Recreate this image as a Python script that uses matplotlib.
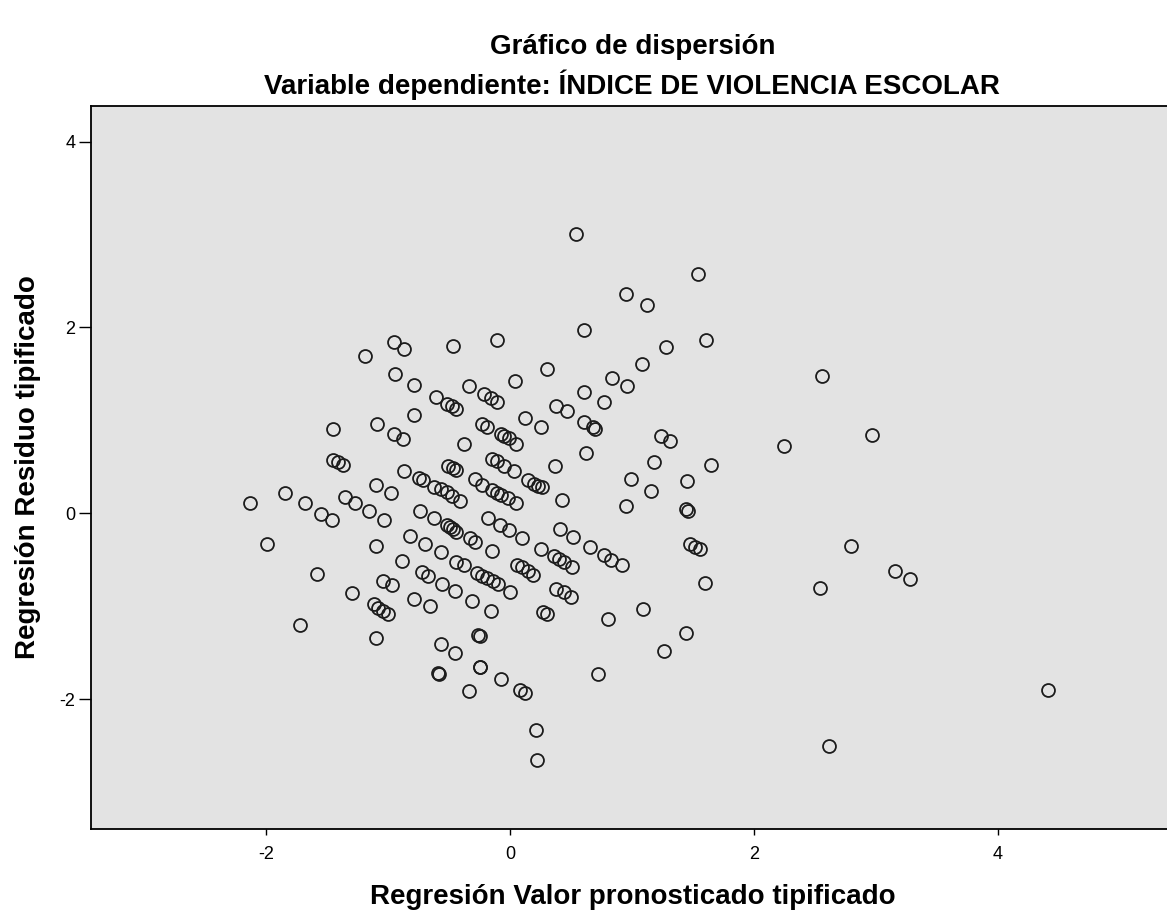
import matplotlib
matplotlib.use("Agg")
import matplotlib.pyplot as plt

# Regresión Valor pronosticado tipificado (x) / Regresión Residuo tipificado (y)
x_pred = [
    -0.95, -0.87, -1.19, -0.47, -0.11, -0.94, -0.79, -0.34, -0.61, -0.52,
    -0.48, -0.44, -0.21, -0.16, -0.11, -1.45, -1.09, -0.79, -0.95, -0.88,
    -0.38, -0.23, -0.19, -0.07, -0.05, -0.01, 0.05, -1.45, -1.41, -1.37,
    -0.87, -0.75, -0.71, -0.51, -0.47, -0.44, -0.15, -0.11, -0.05, 0.03,
    -0.29, -0.23, -1.10, -0.98, -1.35, -1.27, -1.85, -2.13, -1.68, -0.62,
    -0.57, -0.52, -0.48, -0.41, -0.15, -0.11, -0.07, -0.02, 0.05, 0.04,
    -1.55, -1.46, -1.16, -1.03, -0.74, -0.62, -0.52, -0.49, -0.47, -0.44,
    -0.18, -0.08, -0.01, -1.99, -1.10, -0.82, -0.70, -0.57, -0.33, -0.29,
    -0.15, -0.89, -0.44, -0.38, -1.58, -0.72, -0.67, -0.56, -0.45, -0.27,
    -0.23, -0.19, -0.14, -0.10, 0.00, -1.04, -0.97, -1.30, -0.79, -0.66,
    -0.31, -0.16, -1.12, -1.08, -1.04, -1.00, -1.72, -1.10, -0.26, -0.25,
    -0.57, -0.45, -0.25, -0.25, -0.59, -0.58, -0.07, -0.34, 0.54, 1.54,
    0.95, 1.12, 0.61, 1.61, 1.28, 1.08, 0.30, 0.84, 0.96, 0.61,
    0.77, 0.38, 0.47, 0.12, 0.25, 0.61, 0.68, 0.70, 1.24, 1.31,
    0.62, 1.18, 1.65, 0.37, 0.15, 0.20, 0.23, 0.26, 0.99, 1.45,
    1.16, 0.43, 0.95, 1.44, 1.46, 0.10, 0.41, 0.52, 0.25, 0.36,
    0.40, 0.44, 0.51, 0.66, 0.77, 0.83, 0.92, 1.48, 1.52, 1.56,
    0.06, 0.10, 0.15, 0.19, 0.38, 0.44, 0.50, 0.27, 0.30, 1.60,
    0.80, 1.09, 1.44, 1.26, 0.72, 0.08, 0.12, 0.21, 0.22, 2.56,
    2.25, 2.97, 2.80, 2.54, 3.16, 3.28, 4.41, 2.62,
]
y_resid = [
    1.84, 1.77, 1.69, 1.80, 1.86, 1.50, 1.38, 1.37, 1.25, 1.18,
    1.16, 1.12, 1.28, 1.24, 1.20, 0.91, 0.96, 1.06, 0.85, 0.80,
    0.75, 0.96, 0.93, 0.85, 0.83, 0.81, 0.75, 0.57, 0.55, 0.52,
    0.46, 0.38, 0.36, 0.51, 0.49, 0.47, 0.58, 0.56, 0.51, 0.45,
    0.37, 0.31, 0.31, 0.22, 0.18, 0.11, 0.22, 0.11, 0.11, 0.28,
    0.26, 0.23, 0.19, 0.13, 0.25, 0.22, 0.20, 0.17, 0.11, 1.42,
    -0.01, -0.07, 0.02, -0.07, 0.03, -0.05, -0.13, -0.15, -0.17, -0.20,
    -0.05, -0.13, -0.18, -0.33, -0.35, -0.24, -0.33, -0.42, -0.27, -0.31,
    -0.41, -0.51, -0.52, -0.56, -0.65, -0.63, -0.68, -0.76, -0.84, -0.64,
    -0.67, -0.70, -0.73, -0.76, -0.85, -0.73, -0.77, -0.86, -0.92, -1.00,
    -0.94, -1.05, -0.98, -1.02, -1.05, -1.08, -1.20, -1.34, -1.31, -1.32,
    -1.41, -1.50, -1.65, -1.65, -1.72, -1.73, -1.78, -1.91, 3.01, 2.58,
    2.36, 2.24, 1.97, 1.87, 1.79, 1.61, 1.55, 1.46, 1.37, 1.31,
    1.20, 1.16, 1.10, 1.03, 0.93, 0.98, 0.93, 0.91, 0.83, 0.78,
    0.65, 0.55, 0.52, 0.51, 0.36, 0.32, 0.29, 0.28, 0.37, 0.35,
    0.24, 0.14, 0.08, 0.05, 0.02, -0.27, -0.17, -0.25, -0.38, -0.46,
    -0.49, -0.52, -0.58, -0.36, -0.45, -0.50, -0.56, -0.33, -0.36, -0.38,
    -0.56, -0.58, -0.62, -0.66, -0.81, -0.85, -0.90, -1.06, -1.08, -0.75,
    -1.14, -1.03, -1.29, -1.48, -1.73, -1.90, -1.93, -2.33, -2.66, 1.48,
    0.72, 0.84, -0.35, -0.80, -0.62, -0.71, -1.90, -2.51,
]
x_ticks = [-2, 0, 2, 4]
y_ticks = [-2, 0, 2, 4]
title_main = "Gráfico de dispersión"
title_sub = "Variable dependiente: ÍNDICE DE VIOLENCIA ESCOLAR"
x_label = "Regresión Valor pronosticado tipificado"
y_label = "Regresión Residuo tipificado"

plt.rcParams['font.family'] = ['Liberation Sans', 'DejaVu Sans']
plt.rcParams['axes.unicode_minus'] = False

W, H = 1167, 918
fig = plt.figure(figsize=(W / 100, H / 100), dpi=100)
left_px, right_px, top_px, bottom_px = 90.7, 1174, 106, 829
ax = fig.add_axes([left_px / W, 1 - bottom_px / H,
                   (right_px - left_px) / W, (bottom_px - top_px) / H])
ax.set_facecolor('#e3e3e3')
ax.plot(x_pred, y_resid, linestyle='none', marker='o', markersize=9.3,
        markerfacecolor='none', markeredgecolor='#1c1c1c', markeredgewidth=1.3)

ax.set_xlim(-3.44, 5.447)
ax.set_ylim(-3.398, 4.384)
ax.set_xticks(x_ticks)
ax.set_yticks(y_ticks)
ax.tick_params(axis='x', direction='out', length=4.3, width=1.0, pad=8,
               labelsize=13, colors='black')
ax.tick_params(axis='y', direction='out', length=9, width=1.0, pad=2,
               labelsize=13, colors='black')
for s in ax.spines.values():
    s.set_linewidth(1.3)
    s.set_color('black')

cx = ((left_px + right_px) / 2) / W
fig.text(cx, 1 - 47 / H, title_main, ha='center', va='center',
         fontsize=20, fontweight='bold')
fig.text(cx, 1 - 85 / H, title_sub, ha='center', va='center',
         fontsize=20, fontweight='bold')
fig.text(cx, 1 - 897 / H, x_label, ha='center', va='center',
         fontsize=20, fontweight='bold')
fig.text(28 / W, 1 - ((top_px + bottom_px) / 2) / H, y_label, ha='center',
         va='center', rotation=90, fontsize=20, fontweight='bold')

fig.savefig('out.png', dpi=100, facecolor='white')
